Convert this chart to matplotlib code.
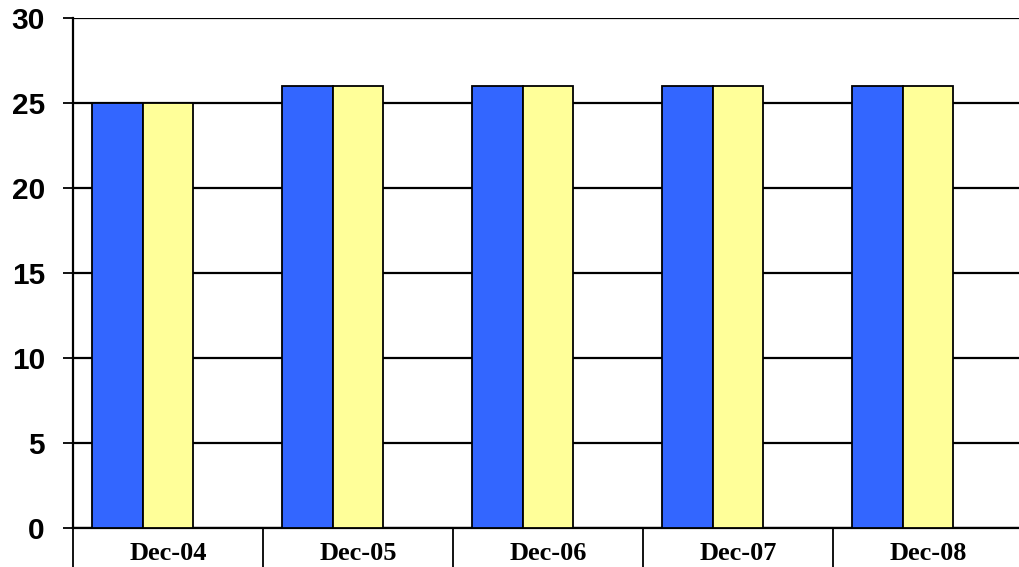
import numpy as np
import matplotlib.pyplot as plt
from matplotlib.ticker import FixedLocator

# yearly values for the two series
categories = ["Dec-04", "Dec-05", "Dec-06", "Dec-07", "Dec-08"]
series_a = [25, 26, 26, 26, 26]
series_b = [25, 26, 26, 26, 26]
yticks = [0, 5, 10, 15, 20, 25, 30]

fig = plt.figure(figsize=(10.19, 5.67), dpi=100)
ax = fig.add_axes([73 / 1019, 39 / 567, 950 / 1019, 510 / 567])

# three slots per category, the third one is empty
n = len(categories)
bw = 0.268
gap = (1 - 3 * bw) / 2
x = np.arange(n)
ax.bar(x + gap, series_a, width=bw, align="edge", color="#3366FF",
       edgecolor="black", linewidth=1.3, zorder=3)
ax.bar(x + gap + bw, series_b, width=bw, align="edge", color="#FFFF99",
       edgecolor="black", linewidth=1.3, zorder=3)

ax.set_xlim(0, n)
ax.set_ylim(0, 30)
ax.set_yticks(yticks)
ax.set_yticklabels([str(v) for v in yticks], fontsize=21.5, fontweight="bold",
                   family="Liberation Sans")
ax.yaxis.grid(True, color="black", linewidth=1.6, zorder=0)
ax.set_axisbelow(True)

# category labels in the middle, separators at the edges
ax.xaxis.set_major_locator(FixedLocator(x + 0.5))
ax.set_xticklabels(categories, fontsize=19, fontweight="bold",
                   family="Liberation Serif")
ax.xaxis.set_minor_locator(FixedLocator(np.arange(n + 1)))
ax.tick_params(axis="x", which="major", length=0, pad=10)
ax.tick_params(axis="x", which="minor", length=28.5, width=1.3,
               direction="out", color="black")
ax.tick_params(axis="y", length=7.2, width=1.3, pad=13, color="black")

for side in ["top", "right"]:
    ax.spines[side].set_visible(False)
ax.spines["left"].set_linewidth(1.6)
ax.spines["bottom"].set_linewidth(1.6)

fig.savefig("out.png", dpi=100)
